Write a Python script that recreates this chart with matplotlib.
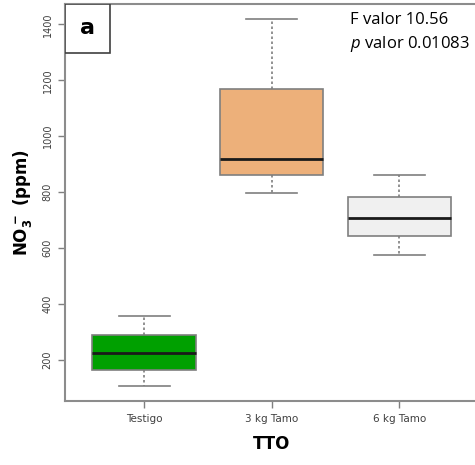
import matplotlib.pyplot as plt
from matplotlib.patches import Rectangle

plt.rcParams['mathtext.fontset'] = 'custom'
plt.rcParams['mathtext.it'] = 'Open Sans:italic'
plt.rcParams['mathtext.rm'] = 'DejaVu Sans'
plt.rcParams['mathtext.bf'] = 'DejaVu Sans:bold'

# values (ppm)
groups = ['Testigo', '3 kg Tamo', '6 kg Tamo']
whisker_low = [105, 797, 574]
q1 = [165, 861, 643]
median = [225, 918, 706]
q3 = [287, 1168, 783]
whisker_high = [355, 1420, 861]
colors = ['#00A000', '#EDB07A', '#F0F0F0']
yticks = [200, 400, 600, 800, 1000, 1200, 1400]

stats = []
for i, g in enumerate(groups):
    stats.append({'label': g, 'whislo': whisker_low[i], 'q1': q1[i], 'med': median[i],
                  'q3': q3[i], 'whishi': whisker_high[i], 'fliers': []})

fig = plt.figure(figsize=(4.75, 4.65), dpi=100)
ax = fig.add_axes([65 / 475, 64 / 465, 413.5 / 475, 397 / 465])

bp = ax.bxp(stats, positions=[1, 2, 3], widths=0.81, patch_artist=True,
            showfliers=False,
            boxprops=dict(edgecolor='#7f7f7f', linewidth=1.2),
            whiskerprops=dict(color='#7f7f7f', linestyle=(0, (1.5, 1.5)), linewidth=1.2),
            capprops=dict(color='#7f7f7f', linewidth=1.2),
            medianprops=dict(color='#1a1a1a', linewidth=2),
            capwidths=0.4)
for patch, c in zip(bp['boxes'], colors):
    patch.set_facecolor(c)

ax.set_xlim(0.38, 3.62)
ax.set_ylim(52.4, 1472.6)
ax.set_yticks(yticks)
ax.set_yticklabels([str(t) for t in yticks], rotation=90, va='center', fontsize=7, color='#404040')
ax.set_xticks([1, 2, 3])
ax.set_xticklabels(groups, fontsize=7.5, color='#404040')
ax.tick_params(axis='both', length=5, width=1, color='#7f7f7f', pad=4)

for s in ax.spines.values():
    s.set_color('#8c8c8c')
    s.set_linewidth(1.5)

ax.set_xlabel('TTO', fontsize=12, fontweight='bold', labelpad=8)
ax.set_ylabel(r'$\mathbf{NO_3^{\,-}}$ (ppm)', fontsize=12, fontweight='bold', labelpad=6)

# panel letter box
ax.add_patch(Rectangle((0, 1 - 49 / 397), 45 / 413.5, 49 / 397, transform=ax.transAxes,
                       facecolor='white', edgecolor='#404040', linewidth=1.2, zorder=5))
ax.text(22.5 / 413.5, 1 - 24.5 / 397, 'a', transform=ax.transAxes, fontsize=16,
        fontweight='bold', ha='center', va='center', zorder=6)

ax.text(350 / 475, 1 - 20 / 465, 'F valor 10.56', transform=fig.transFigure,
        fontsize=12, family='Open Sans', va='center')
ax.text(350 / 475, 1 - 44 / 465, r'$\mathit{p}$ valor 0.01083', transform=fig.transFigure,
        fontsize=12, family='Open Sans', va='center')

fig.savefig('out.png', dpi=100)
